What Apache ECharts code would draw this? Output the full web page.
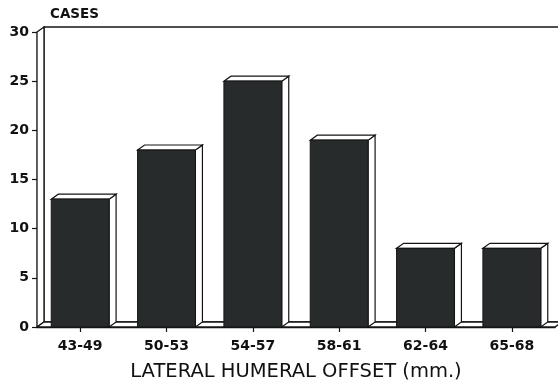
<!DOCTYPE html>
<html><head><meta charset="utf-8">
<script src="https://cdn.jsdelivr.net/npm/echarts@6/dist/echarts.min.js"></script>
<style>html,body{margin:0;padding:0;background:#fff}#c{width:558px;height:387px}</style>
</head><body><div id="c"></div>
<script>
const categories = ['43-49', '50-53', '54-57', '58-61', '62-64', '65-68'];
const cases = [13, 18, 25, 19, 8, 8];
const yMin = 0, yMax = 30, yStep = 5;
const yName = 'CASES';
const xName = 'LATERAL HUMERAL OFFSET (mm.)';

const DX = 7, DY = -5;
const FRONT = '#272b2b', LINE = '#141414';

function renderWalls(params, api) {
  const cs = params.coordSys;
  const x0 = cs.x, y0 = cs.y + cs.height, x1 = cs.x + cs.width, yt = cs.y;
  const st = {fill: '#fff', stroke: LINE, lineWidth: 1.3};
  return {type: 'group', children: [
    {type: 'polygon', shape: {points: [[x0 + DX, yt + DY], [x1 + DX, yt + DY], [x1 + DX, y0 + DY], [x0 + DX, y0 + DY]]}, style: st},
    {type: 'polygon', shape: {points: [[x0, yt], [x0 + DX, yt + DY], [x0 + DX, y0 + DY], [x0, y0]]}, style: st},
    {type: 'polygon', shape: {points: [[x0, y0], [x0 + DX, y0 + DY], [x1 + DX, y0 + DY], [x1, y0]]}, style: st}
  ]};
}

function renderBar(params, api) {
  const i = api.value(0), v = api.value(1);
  const top = api.coord([i, v]), base = api.coord([i, 0]);
  const w = api.size([1, 0])[0] * 0.67;
  const xa = top[0] - w / 2, xb = top[0] + w / 2, yt = top[1], yb = base[1];
  const st = {fill: '#fff', stroke: LINE, lineWidth: 1.2};
  return {type: 'group', children: [
    {type: 'polygon', shape: {points: [[xb, yt], [xb + DX, yt + DY], [xb + DX, yb + DY], [xb, yb]]}, style: st},
    {type: 'polygon', shape: {points: [[xa, yt], [xa + DX, yt + DY], [xb + DX, yt + DY], [xb, yt]]}, style: st},
    {type: 'rect', shape: {x: xa, y: yt, width: w, height: yb - yt}, style: {fill: FRONT, stroke: LINE, lineWidth: 1}}
  ]};
}

const chart = echarts.init(document.getElementById('c'), null, {renderer: 'canvas'});
chart.setOption({
  backgroundColor: '#fff',
  animation: false,
  title: {
    text: yName, left: 45, top: 2,
    textStyle: {fontFamily: 'DejaVu Sans', fontWeight: 'bold', fontSize: 13.5, color: '#111'}
  },
  grid: {left: 37, right: 3, top: 32, bottom: 60},
  xAxis: {
    type: 'category', data: categories,
    axisLine: {show: true, lineStyle: {color: LINE, width: 1.3}},
    axisTick: {show: true, alignWithLabel: true, length: 5, lineStyle: {color: LINE, width: 1.2}},
    axisLabel: {margin: 12, fontFamily: 'DejaVu Sans', fontWeight: 'bold', fontSize: 14, color: '#111'},
    name: xName, nameLocation: 'middle', nameGap: 35,
    nameTextStyle: {fontFamily: 'DejaVu Sans', fontSize: 19.5, color: '#111'},
    splitLine: {show: false}
  },
  yAxis: {
    type: 'value', min: yMin, max: yMax, interval: yStep,
    axisLine: {show: true, lineStyle: {color: LINE, width: 1.3}},
    axisTick: {show: true, length: 5, lineStyle: {color: LINE, width: 1.2}},
    axisLabel: {margin: 8, fontFamily: 'DejaVu Sans', fontWeight: 'bold', fontSize: 14, color: '#111'},
    splitLine: {show: false}
  },
  series: [
    {type: 'custom', renderItem: renderWalls, data: [[0, 0]], clip: false, silent: true, z: 1},
    {type: 'custom', renderItem: renderBar, data: cases.map((v, i) => [i, v]), clip: false, z: 3}
  ]
});
</script>
</body></html>
